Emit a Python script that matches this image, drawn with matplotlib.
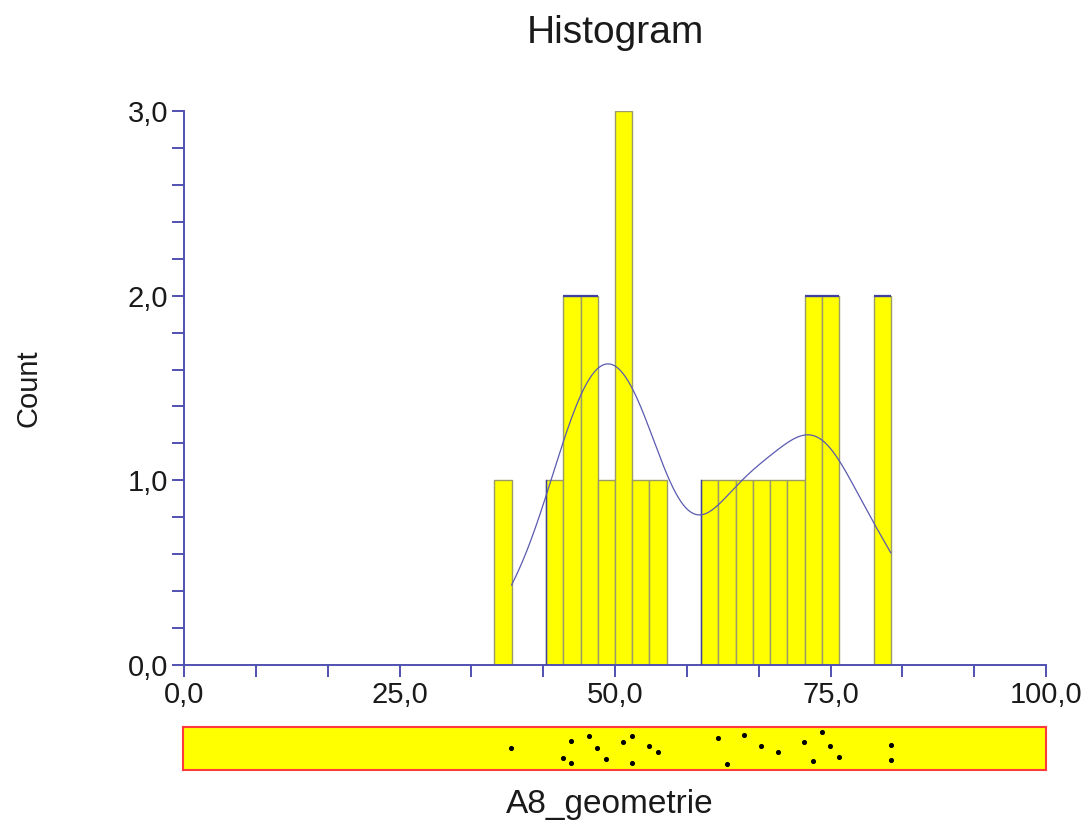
import numpy as np
import matplotlib
matplotlib.use("Agg")
import matplotlib.pyplot as plt
from matplotlib.ticker import MultipleLocator, FuncFormatter

plt.rcParams['font.family'] = ['Liberation Sans', 'DejaVu Sans']

# ---- data ----
values = [38, 44, 45, 45, 47, 48, 49, 51, 52, 52, 54, 55,
          62, 63, 65, 67, 69, 72, 73, 74, 75, 76, 82, 82]
bin_left = [36, 42, 44, 46, 48, 50, 52, 54, 60, 62, 64, 66, 68, 70, 72, 74, 80]
counts   = [1, 1, 2, 2, 1, 3, 1, 1, 1, 1, 1, 1, 1, 1, 2, 2, 2]
bin_width = 2
jitter = [0.51, 0.29, 0.68, 0.16, 0.80, 0.52, 0.25, 0.64, 0.78, 0.16, 0.56, 0.41,
          0.74, 0.13, 0.82, 0.56, 0.41, 0.64, 0.20, 0.89, 0.55, 0.31, 0.59, 0.23]
xticks = [0, 25, 50, 75, 100]
yticks = [0, 1, 2, 3]
title = "Histogram"
xlabel = "A8_geometrie"
ylabel = "Count"

AX = '#5050b0'
W, H = 1087, 823
fig = plt.figure(figsize=(W / 100, H / 100), dpi=100)
ax = fig.add_axes([184 / W, 1 - 665 / H, 862 / W, 554 / H])

ax.bar(bin_left, counts, width=bin_width, align='edge', color='#ffff00',
       edgecolor='#9a9a6a', linewidth=1.0, zorder=2)

# blue outline fragments
for bl, c in zip(bin_left, counts):
    if c == 2:
        ax.plot([bl, bl + bin_width], [c, c], color='#4040a0', lw=1.6, zorder=3,
                solid_capstyle='butt')
for i, (bl, c) in enumerate(zip(bin_left, counts)):
    prev_empty = i == 0 or bin_left[i - 1] != bl - bin_width
    next_full = i + 1 < len(bin_left) and bin_left[i + 1] == bl + bin_width
    if prev_empty and next_full and c == 1:
        ax.plot([bl, bl], [0, c], color='#4040a0', lw=1.0, zorder=3)

# kernel density curve scaled to counts over data range
v = np.array(values, dtype=float)
h = 4.3
grid = np.linspace(v.min(), v.max(), 400)
dens = np.exp(-0.5 * ((grid[:, None] - v[None, :]) / h) ** 2).sum(axis=1)
dens = dens / np.trapezoid(dens, grid) * len(v) * bin_width
ax.plot(grid, dens, color='#5a5ab0', lw=0.9, zorder=4)

ax.set_xlim(0, 100)
ax.set_ylim(0, 3)
for s in ['top', 'right']:
    ax.spines[s].set_visible(False)
for s in ['left', 'bottom']:
    ax.spines[s].set_color(AX)
    ax.spines[s].set_linewidth(1.4)
ax.set_xticks(xticks)
ax.set_yticks(yticks)
ax.xaxis.set_minor_locator(MultipleLocator(100 / 12))
ax.yaxis.set_minor_locator(MultipleLocator(0.2))
fmt = FuncFormatter(lambda x, p: f"{x:.1f}".replace('.', ','))
ax.xaxis.set_major_formatter(fmt)
ax.yaxis.set_major_formatter(fmt)
ax.tick_params(which='both', direction='out', length=8.5, width=1.4, color=AX,
               labelsize=21, labelcolor='#1a1a1a')
ax.tick_params(axis='y', pad=3)
ax.tick_params(axis='x', pad=3)

# strip with individual values
sx = fig.add_axes([183 / W, 1 - 770 / H, 863 / W, 43 / H])
sx.set_xlim(0, 100)
sx.set_ylim(0, 1)
sx.set_facecolor('#ffff00')
for s in sx.spines.values():
    s.set_color('#ff3a3a')
    s.set_linewidth(1.5)
sx.set_xticks([])
sx.set_yticks([])
sx.scatter(values, jitter, s=7, color='black', zorder=3)

fig.text(615 / W, 1 - 33 / H, title, ha='center', va='center', fontsize=28, color='#1a1a1a')
fig.text(28 / W, 1 - 388 / H, ylabel, ha='center', va='center', rotation=90,
         fontsize=21, color='#1a1a1a')
fig.text(610 / W, 1 - 804 / H, xlabel, ha='center', va='center', fontsize=24, color='#1a1a1a')

fig.savefig('out.png', dpi=100)
